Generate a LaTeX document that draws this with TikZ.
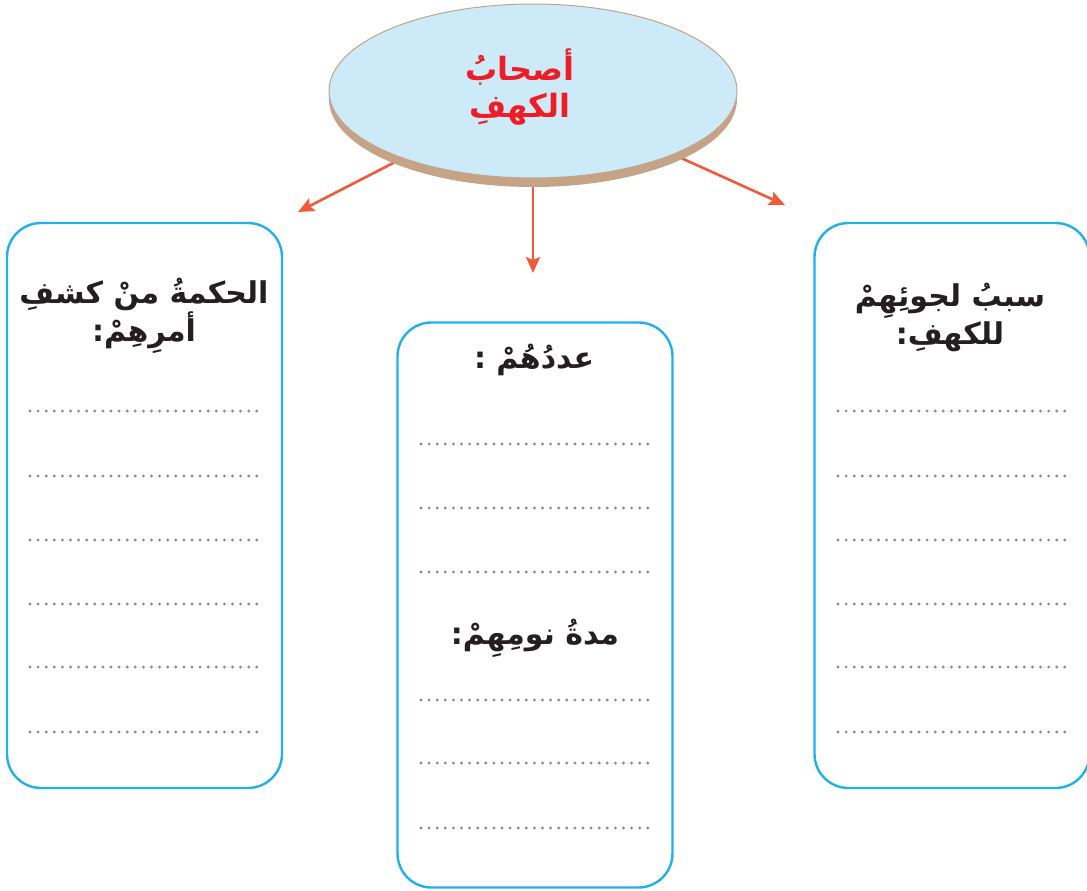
\documentclass[tikz,border=0pt]{standalone}
\usepackage{fontspec}
\usetikzlibrary{shapes.geometric,arrows.meta}
\TeXXeTstate=1
\newfontfamily\arabicfont[Script=Arabic]{DejaVu Sans}
\definecolor{boxblue}{HTML}{22B0EB}
\definecolor{ellfill}{HTML}{CCEAF8}
\definecolor{ellshadow}{HTML}{C4A386}
\definecolor{arrowred}{HTML}{EF5A3B}
\definecolor{titlered}{HTML}{EE1D25}
\definecolor{inkdark}{HTML}{231F20}
\definecolor{dotgray}{HTML}{8C8C8C}
\pgfdeclarelayer{background}
\pgfsetlayers{background,main}
\begin{document}
\begin{tikzpicture}[x=1pt,y=-1pt,
  roundbox/.style={draw=boxblue,line width=2.4pt,rounded corners=34pt,minimum width=275pt,minimum height=565pt,inner sep=0pt},
  heading/.style={text=inkdark,align=center,font=\arabicfont\bfseries\fontsize{30}{38}\selectfont},
  writeline/.style={draw=dotgray,line width=3.2pt,line cap=round,dash pattern=on 0pt off 8.1pt},
  link/.style={draw=arrowred,line width=2.6pt,-{Stealth[length=16pt,width=14pt,inset=3pt]}}]
\useasboundingbox (0,0) rectangle (1087,891);
% central ellipse
\node[ellipse,draw=ellshadow,line width=1pt,fill=ellfill,minimum width=408pt,minimum height=174pt,inner sep=0pt] (top) at (533,91) {};
\node[text=titlered,align=center,font=\arabicfont\bfseries\fontsize{32}{37}\selectfont] (title) at (520,87) {\beginR أصحابُ\endR\\\beginR الكهفِ\endR};
% arrow end points
\coordinate (endL) at (298,212);
\coordinate (endM) at (533,273);
\coordinate (endR) at (785,205);
\begin{pgfonlayer}{background}
\draw[link] (top) -- (endL);
\draw[link] (top) -- (endM);
\draw[link] (top) -- (endR);
\fill[ellshadow] (533,99) ellipse [x radius=204pt, y radius=88pt];
\end{pgfonlayer}
% boxes
\node[roundbox] (boxL) at (144.5,505.5) {};
\node[roundbox] (boxM) at (535,605) {};
\node[roundbox] (boxR) at (952,505.5) {};
% headings
\node[heading] (hL) at (144,316) {\beginR الحكمةُ منْ كشفِ\endR\\\beginR أمرِهِمْ:\endR};
\node[heading] (hR) at (950,317) {\beginR سببُ لجوئِهِمْ\endR\\\beginR للكهفِ:\endR};
\node[heading] (hM1) at (534,360) {\beginR عددُهُمْ :\endR};
\node[heading] (hM2) at (535,638) {\beginR مدةُ نومِهِمْ:\endR};
% dotted writing lines
\foreach \yy in {411,476,540,604,667,732}{
  \draw[writeline] (30,\yy) -- (262,\yy);
  \draw[writeline] (838,\yy) -- (1068,\yy);
}
\foreach \yy in {444,508,572,700,763,828}{
  \draw[writeline] (421,\yy) -- (652,\yy);
}
\end{tikzpicture}
\end{document}
